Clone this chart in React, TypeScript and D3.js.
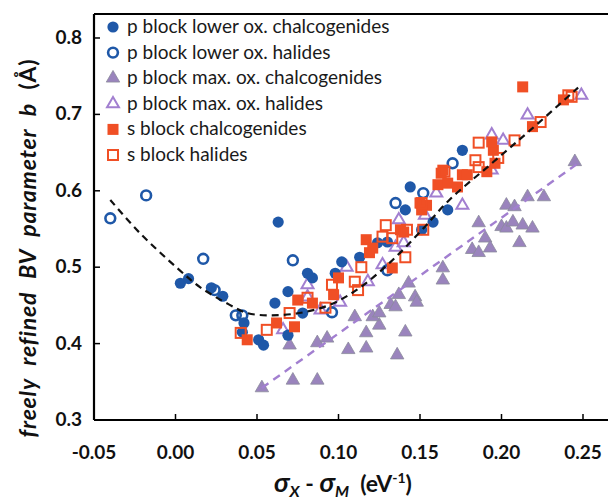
import React from 'react'
import * as d3 from 'd3'

type Pt = [number, number]

// p block lower ox. chalcogenides
const pLowChalc: Pt[] = [
  [0.003, 0.479], [0.008, 0.485], [0.022, 0.473], [0.029, 0.462], [0.042, 0.427], [0.041, 0.415],
  [0.051, 0.405], [0.054, 0.398], [0.063, 0.559], [0.069, 0.468], [0.061, 0.453], [0.078, 0.44],
  [0.069, 0.411], [0.081, 0.492], [0.084, 0.486], [0.102, 0.507], [0.098, 0.492], [0.113, 0.513],
  [0.124, 0.532], [0.13, 0.533], [0.141, 0.575], [0.144, 0.605], [0.151, 0.549], [0.158, 0.559],
  [0.167, 0.575], [0.176, 0.653],
]
// p block lower ox. halides
const pLowHal: Pt[] = [
  [-0.04, 0.564], [-0.018, 0.594], [0.017, 0.511], [0.024, 0.47], [0.037, 0.437], [0.041, 0.437],
  [0.072, 0.509], [0.135, 0.584], [0.152, 0.597], [0.13, 0.496], [0.096, 0.441], [0.17, 0.636],
]
// p block max. ox. chalcogenides
const pMaxChalc: Pt[] = [
  [0.053, 0.342], [0.072, 0.352], [0.087, 0.352], [0.07, 0.398], [0.087, 0.401], [0.093, 0.407],
  [0.106, 0.392], [0.117, 0.394], [0.136, 0.385], [0.117, 0.414], [0.141, 0.415], [0.125, 0.424],
  [0.11, 0.435], [0.121, 0.435], [0.125, 0.44], [0.132, 0.451], [0.135, 0.448], [0.137, 0.464],
  [0.147, 0.461], [0.148, 0.454], [0.143, 0.479], [0.164, 0.499], [0.164, 0.483], [0.182, 0.523],
  [0.186, 0.519], [0.186, 0.558], [0.19, 0.538], [0.193, 0.525], [0.2, 0.553], [0.203, 0.551],
  [0.203, 0.581], [0.207, 0.559], [0.208, 0.579], [0.211, 0.532], [0.213, 0.555], [0.216, 0.592],
  [0.219, 0.551], [0.226, 0.592], [0.245, 0.638],
]
// p block max. ox. halides
const pMaxHal: Pt[] = [
  [0.066, 0.418], [0.081, 0.477], [0.081, 0.461], [0.089, 0.444], [0.101, 0.454], [0.105, 0.5],
  [0.118, 0.481], [0.127, 0.503], [0.135, 0.526], [0.14, 0.532], [0.137, 0.562], [0.153, 0.568],
  [0.16, 0.597], [0.176, 0.581], [0.194, 0.673], [0.201, 0.666], [0.216, 0.699], [0.249, 0.725],
  [0.194, 0.627],
]
// s block chalcogenides
const sChalc: Pt[] = [
  [0.044, 0.405], [0.062, 0.427], [0.073, 0.422], [0.075, 0.457], [0.084, 0.453], [0.097, 0.464],
  [0.1, 0.486], [0.117, 0.536], [0.119, 0.519], [0.121, 0.525], [0.133, 0.499], [0.138, 0.549],
  [0.14, 0.546], [0.15, 0.584], [0.154, 0.581], [0.151, 0.575], [0.163, 0.623], [0.161, 0.608],
  [0.164, 0.627], [0.167, 0.61], [0.173, 0.605], [0.176, 0.621], [0.179, 0.621], [0.191, 0.625],
  [0.196, 0.636], [0.195, 0.653], [0.194, 0.664], [0.219, 0.684], [0.213, 0.736], [0.238, 0.719],
]
// s block halides
const sHal: Pt[] = [
  [0.04, 0.414], [0.056, 0.418], [0.07, 0.44], [0.081, 0.46], [0.092, 0.447], [0.096, 0.477],
  [0.11, 0.481], [0.112, 0.47], [0.114, 0.5], [0.127, 0.54], [0.129, 0.555], [0.133, 0.538],
  [0.141, 0.513], [0.142, 0.549], [0.152, 0.549], [0.151, 0.584], [0.165, 0.625], [0.184, 0.64],
  [0.186, 0.631], [0.186, 0.663], [0.198, 0.643], [0.208, 0.666], [0.224, 0.69], [0.241, 0.725],
  [0.243, 0.723],
]

// fitted trend (black) and max. ox. trend (purple)
const trendX = [-0.04, -0.022, 0.001, 0.015, 0.033, 0.044, 0.058, 0.076, 0.095, 0.113, 0.132, 0.15, 0.168, 0.193, 0.218, 0.247]
const trendY = [0.588, 0.545, 0.499, 0.474, 0.451, 0.44, 0.437, 0.44, 0.451, 0.473, 0.507, 0.546, 0.588, 0.634, 0.68, 0.735]
const maxTrendX = [0.053, 0.247]
const maxTrendY = [0.342, 0.636]

const xTicks = [-0.05, 0, 0.05, 0.1, 0.15, 0.2, 0.25]
const yTicks = [0.3, 0.4, 0.5, 0.6, 0.7, 0.8]

const legendLabels = [
  'p block lower ox. chalcogenides',
  'p block lower ox. halides',
  'p block max. ox. chalcogenides',
  'p block max. ox. halides',
  's block chalcogenides',
  's block halides',
]

const BLUE = '#1f58a8'
const PURPLE = '#9a84bd'
const PURPLE_LINE = '#a27fd0'
const RED = '#f04f25'
const FONT = 'Lato, "Open Sans", sans-serif'

const W = 608
const H = 504

const x = d3.scaleLinear().domain([-0.05, 0.27]).range([94, 615.6])
const y = d3.scaleLinear().domain([0.3, 0.8314]).range([420, 14])

const triPath = d3.symbol().type(d3.symbolTriangle).size(78)()
const triOpen = d3.symbol().type(d3.symbolTriangle).size(62)()

function Marker({ kind, cx, cy }: { kind: number; cx: number; cy: number }) {
  const t = `translate(${cx},${cy})`
  switch (kind) {
    case 0: return <circle cx={cx} cy={cy} r={5.6} fill={BLUE} />
    case 1: return <circle cx={cx} cy={cy} r={4.9} fill="none" stroke={BLUE} strokeWidth={2.6} />
    case 2: return <path d={triPath!} transform={t} fill={PURPLE} stroke="#8a8a9a" strokeWidth={0.8} />
    case 3: return <path d={triOpen!} transform={t} fill="none" stroke={PURPLE_LINE} strokeWidth={2} />
    case 4: return <rect x={cx - 5.5} y={cy - 5.5} width={11} height={11} fill={RED} />
    default: return <rect x={cx - 5} y={cy - 5} width={10} height={10} fill="none" stroke={RED} strokeWidth={2} />
  }
}

export default function App() {
  const series = [pMaxChalc, pMaxHal, pLowChalc, pLowHal, sChalc, sHal]
  const kinds = [2, 3, 0, 1, 4, 5]
  const legendKinds = [0, 1, 2, 3, 4, 5]
  const line = d3.line<number>().x(i => x(trendX[i])).y(i => y(trendY[i])).curve(d3.curveCatmullRom)
  const maxLine = d3.line<number>().x(i => x(maxTrendX[i])).y(i => y(maxTrendY[i]))
  const x0 = x.range()[0]
  const y0 = y.range()[0]
  const yTop = y.range()[1]

  return (
    <svg width={W} height={H} style={{ position: 'absolute', left: 0, top: 0, background: '#fff' }} fontFamily={FONT}>
      {series.map((s, si) => (
        <g key={si}>
          {s.map((d, i) => <Marker key={i} kind={kinds[si]} cx={x(d[0])} cy={y(d[1])} />)}
        </g>
      ))}
      <path d={line(trendX.map((_, i) => i))!} fill="none" stroke="#111" strokeWidth={2.2} strokeDasharray="7,5" />
      <path d={maxLine(maxTrendX.map((_, i) => i))!} fill="none" stroke={PURPLE_LINE} strokeWidth={2.4} strokeDasharray="8,6" />

      {/* frame */}
      <line x1={x0} x2={W} y1={yTop} y2={yTop} stroke="#000" strokeWidth={2.2} />
      <line x1={x0} x2={x0} y1={yTop} y2={y0} stroke="#000" strokeWidth={2.2} />
      <line x1={x0} x2={W} y1={y0} y2={y0} stroke="#000" strokeWidth={2.2} />

      {xTicks.map(t => (
        <g key={t}>
          <line x1={x(t)} x2={x(t)} y1={y0} y2={y0 - 6} stroke="#000" strokeWidth={1.5} />
          <text x={x(t)} y={y0 + 39} textAnchor="middle" fontSize={19} fontWeight={700} fill="#111">
            {t < 0 ? '-' + Math.abs(t).toFixed(2) : t.toFixed(2)}
          </text>
        </g>
      ))}
      {yTicks.map(t => (
        <g key={t}>
          <line x1={x0} x2={x0 + 6} y1={y(t)} y2={y(t)} stroke="#000" strokeWidth={1.5} />
          <text x={x0 - 12} y={y(t) + 6} textAnchor="end" fontSize={19} fontWeight={700} fill="#111">{t.toFixed(1)}</text>
        </g>
      ))}

      {legendLabels.map((l, i) => {
        const ly = 27 + i * 25.6
        return (
          <g key={l}>
            <Marker kind={legendKinds[i]} cx={113} cy={ly} />
            <text x={127} y={ly + 6} fontSize={19} fill="#1a1a1a">{l}</text>
          </g>
        )
      })}

      <text transform="translate(36,248) rotate(-90)" textAnchor="middle" fontSize={23} fontWeight={700} fill="#111"
        letterSpacing={0.8} wordSpacing={7} style={{ whiteSpace: 'pre' }}>
        <tspan fontStyle="italic">freely refined BV parameter b</tspan>
        <tspan> (Å)</tspan>
      </text>

      <text x={343} y={492} textAnchor="middle" fontSize={23} fontWeight={700} fill="#111" style={{ whiteSpace: 'pre' }}>
        <tspan fontStyle="italic" fontSize={27}>σ</tspan>
        <tspan fontStyle="italic" fontSize={16} dy={5}>X</tspan>
        <tspan dy={-5}> - </tspan>
        <tspan fontStyle="italic" fontSize={27}>σ</tspan>
        <tspan fontStyle="italic" fontSize={16} dy={5}>M</tspan>
        <tspan dy={-5}>  (eV</tspan>
        <tspan fontSize={14} dy={-9}>-1</tspan>
        <tspan dy={9}>)</tspan>
      </text>
    </svg>
  )
}
